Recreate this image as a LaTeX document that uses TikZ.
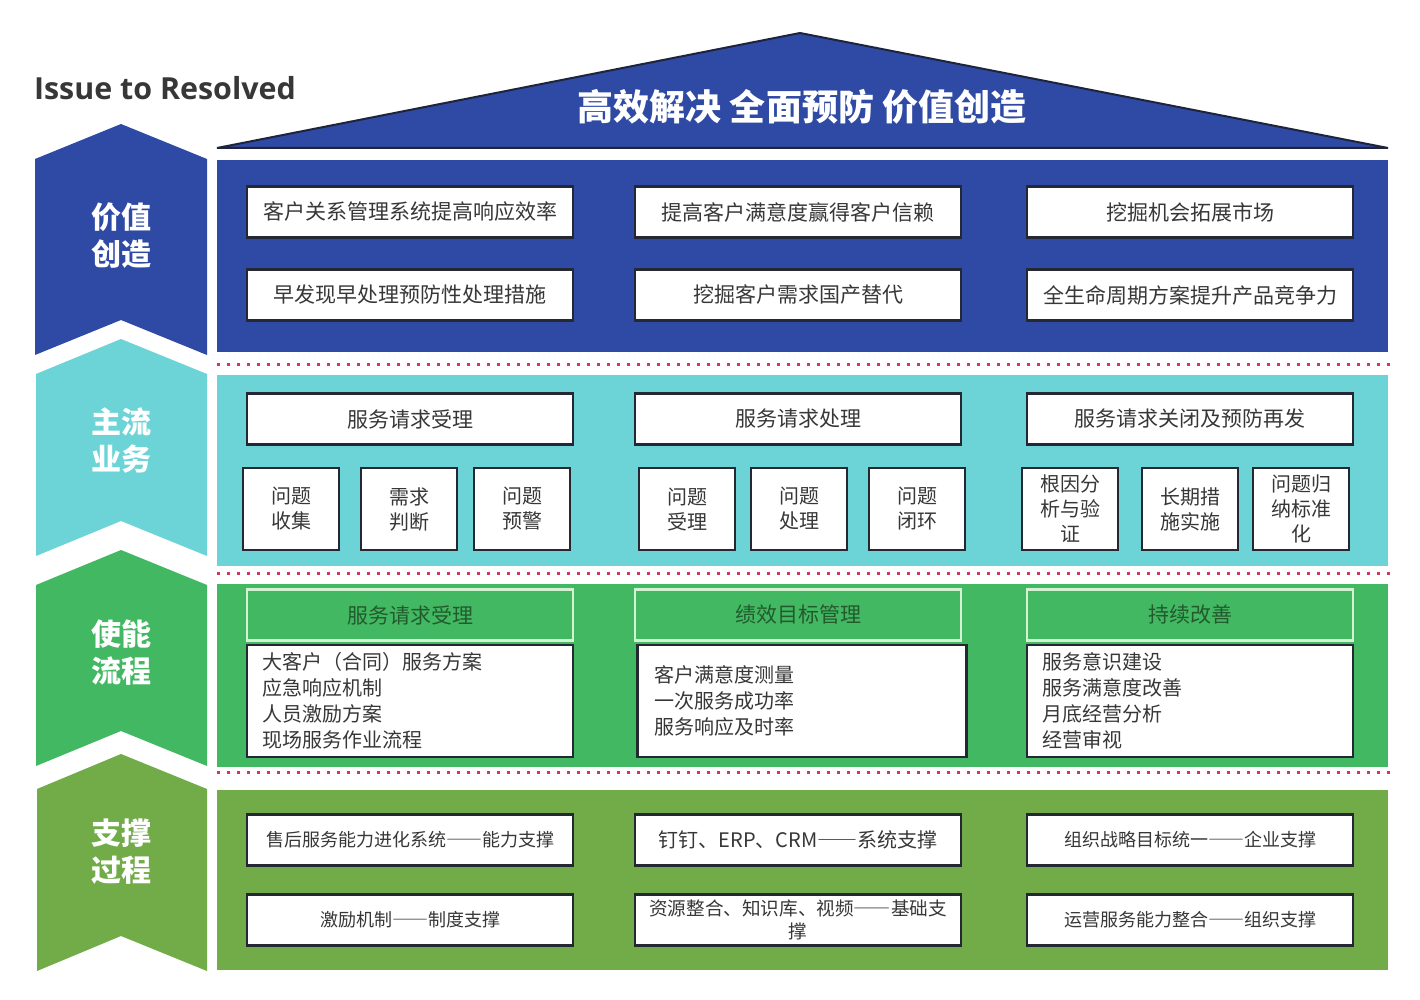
\documentclass[tikz,border=0pt]{standalone}
\usepackage{fontspec}
\setmainfont{Open Sans}
\newfontfamily\cjk{Noto Sans CJK SC}
\newcommand\fdash{{\addfontfeature{CharacterWidth=Full}——}}
\definecolor{blueP}{RGB}{47,74,165}
\definecolor{cyanP}{RGB}{108,211,214}
\definecolor{greenP}{RGB}{66,184,98}
\definecolor{oliveP}{RGB}{113,172,72}
\definecolor{dotred}{RGB}{214,52,95}
\definecolor{txt}{RGB}{55,55,55}
\definecolor{boxline}{RGB}{35,40,50}
\definecolor{headtxt}{RGB}{35,90,45}
\definecolor{headline}{RGB}{210,242,210}
\definecolor{roofline}{RGB}{30,36,60}
\tikzset{
  wbox/.style={draw=boxline, line width=1.1pt, fill=white, text=txt, inner sep=0pt,
    minimum width=163pt, minimum height=25.5pt, font=\cjk\fontsize{10.5}{12}\selectfont},
  sbox/.style={wbox, minimum width=48pt, minimum height=41pt, align=center,
    font=\cjk\fontsize{10}{12.5}\selectfont},
  ghead/.style={wbox, fill=greenP, draw=headline, text=headtxt},
  lbox/.style={wbox, minimum height=56pt, inner xsep=7.5pt, text width=148pt, align=left,
    font=\cjk\fontsize{10}{13}\selectfont},
  obox/.style={wbox, font=\cjk\fontsize{9}{11.5}\selectfont},
  tag/.style={text=white, align=center, font=\cjk\bfseries\fontsize{15}{18.5}\selectfont},
  dotline/.style={dotred, line width=1.5pt, dash pattern=on 1.5pt off 3.5pt}
}
\begin{document}
\begin{tikzpicture}[x=0.5pt, y=-0.5pt]
\useasboundingbox (0,0) rectangle (1420,1000);

\node[anchor=west, text=txt, font=\bfseries\fontsize{15.2}{18}\selectfont] (issue) at (27,88) {Issue to Resolved};
\draw[fill=blueP, draw=roofline, line width=1pt] (217,148) -- (800,33) -- (1388,148) -- cycle;
\node[text=white, font=\cjk\bfseries\fontsize{18}{21}\selectfont] (roof) at (802,107) {高效解决 全面预防 价值创造};

\fill[blueP] (35,159) -- (121,124) -- (207,159) -- (207,355) -- (121,320) -- (35,355) -- cycle;
\fill[cyanP] (36,374) -- (121,339) -- (207,374) -- (207,556) -- (121,521) -- (36,556) -- cycle;
\fill[greenP] (36,585) -- (121,550) -- (207,585) -- (207,766) -- (121,731) -- (36,766) -- cycle;
\fill[oliveP] (37,789) -- (121,754) -- (207,789) -- (207,971) -- (121,936) -- (37,971) -- cycle;
\node[tag] (value) at (121,236) {价值\\创造};
\node[tag] (main) at (121,441) {主流\\业务};
\node[tag] (enable) at (121,653) {使能\\流程};
\node[tag] (support) at (121,852) {支撑\\过程};

\fill[blueP] (217,160) rectangle (1388,352);
\fill[cyanP] (217,375) rectangle (1388,566);
\fill[greenP] (217,584) rectangle (1388,767);
\fill[oliveP] (217,790) rectangle (1388,970);
\draw[dotline] (217,365) -- (1395,365);
\draw[dotline] (217,573) -- (1395,573);
\draw[dotline] (217,772) -- (1395,772);

\node[wbox] (crm) at (410,212) {客户关系管理系统提高响应效率};
\node[wbox] (trust) at (798,212) {提高客户满意度赢得客户信赖};
\node[wbox] (market) at (1190,212) {挖掘机会拓展市场};
\node[wbox] (early) at (410,295) {早发现早处理预防性处理措施};
\node[wbox] (local) at (798,295) {挖掘客户需求国产替代};
\node[wbox] (life) at (1190,295) {全生命周期方案提升产品竞争力};

\node[wbox] (accept) at (410,419) {服务请求受理};
\node[wbox] (handle) at (798,419) {服务请求处理};
\node[wbox] (close) at (1190,419) {服务请求关闭及预防再发};
\node[sbox] (collect) at (291,509) {问题\\收集};
\node[sbox] (judge) at (409,509) {需求\\判断};
\node[sbox] (warn) at (522,509) {问题\\预警};
\node[sbox] (take) at (687,509) {问题\\受理};
\node[sbox] (proc) at (799,509) {问题\\处理};
\node[sbox] (loop) at (917,509) {问题\\闭环};
\node[sbox] (root) at (1070,509) {根因分\\析与验\\证};
\node[sbox] (longterm) at (1190,509) {长期措\\施实施};
\node[sbox] (norm) at (1301,509) {问题归\\纳标准\\化};

\node[ghead] (h1) at (410,615) {服务请求受理};
\node[ghead] (h2) at (798,615) {绩效目标管理};
\node[ghead] (h3) at (1190,615) {持续改善};
\node[lbox] (plan) at (410,701) {大客户（合同）服务方案\\应急响应机制\\人员激励方案\\现场服务作业流程};
\node[lbox, minimum width=164.5pt] (kpi) at (802,701) {客户满意度测量\\一次服务成功率\\服务响应及时率};
\node[lbox] (improve) at (1190,701) {服务意识建设\\服务满意度改善\\月底经营分析\\经营审视};

\node[obox] (ability) at (410,840) {售后服务能力进化系统\fdash 能力支撑};
\node[obox, font=\cjk\fontsize{10}{12}\selectfont] (system) at (798,840) {钉钉、ERP、CRM\fdash 系统支撑};
\node[obox] (corp) at (1190,840) {组织战略目标统一\fdash 企业支撑};
\node[obox] (reward) at (410,920) {激励机制\fdash 制度支撑};
\node[obox, align=center, font=\cjk\fontsize{9.3}{11.5}\selectfont] (base) at (798,920) {资源整合、知识库、视频\fdash 基础支\\撑};
\node[obox] (org) at (1190,920) {运营服务能力整合\fdash 组织支撑};
\end{tikzpicture}
\end{document}
